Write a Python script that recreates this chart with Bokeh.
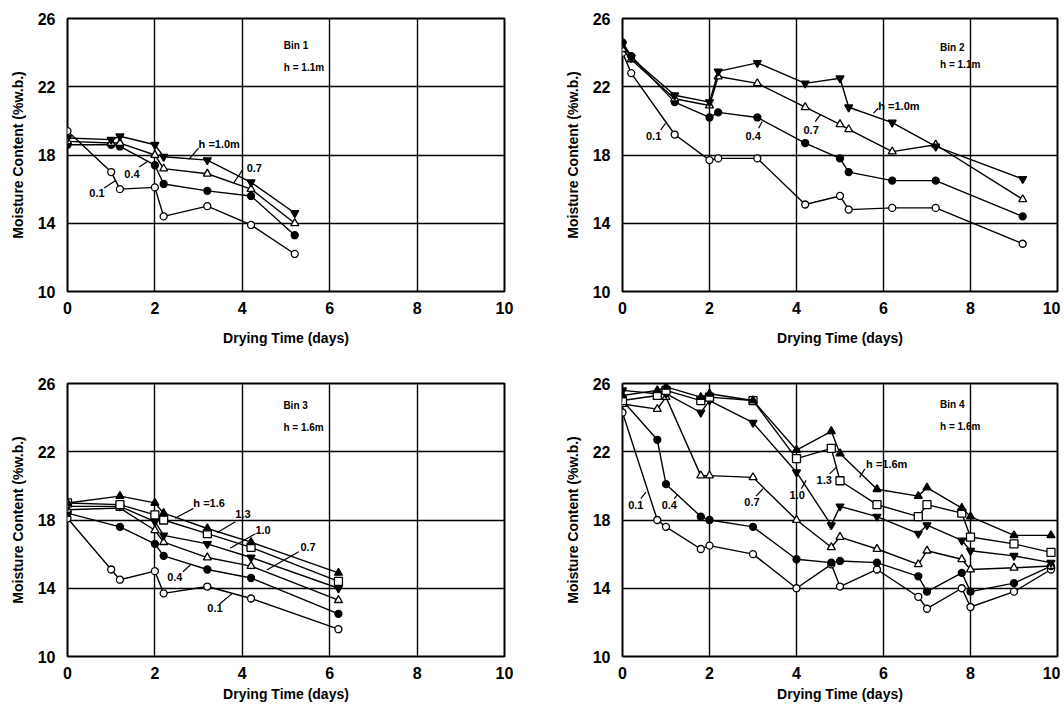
from bokeh.plotting import figure
from bokeh.layouts import row, column
from bokeh.models import Range1d
from bokeh.embed import file_html
from bokeh.resources import INLINE
from bokeh.core.properties import value

FONT = "Liberation Sans"

# ---------------- data ----------------
x_ticks = [0, 2, 4, 6, 8, 10]
y_ticks = [10, 14, 18, 22, 26]

# Bin 1 (h = 1.1 m)
bin1_days = [0, 1.0, 1.2, 2.0, 2.2, 3.2, 4.2, 5.2]
bin1_h01 = [19.4, 17.0, 16.0, 16.1, 14.4, 15.0, 13.9, 12.2]
bin1_h04 = [18.6, 18.6, 18.5, 17.4, 16.3, 15.9, 15.6, 13.3]
bin1_h07 = [18.8, 18.7, 18.7, 18.0, 17.2, 16.9, 16.0, 14.0]
bin1_h10 = [19.0, 18.9, 19.1, 18.6, 17.9, 17.7, 16.4, 14.6]

# Bin 2 (h = 1.1 m)
bin2_days = [0, 0.2, 1.2, 2.0, 2.2, 3.1, 4.2, 5.0, 5.2, 6.2, 7.2, 9.2]
bin2_h01 = [24.0, 22.8, 19.2, 17.7, 17.8, 17.8, 15.1, 15.6, 14.8, 14.9, 14.9, 12.8]
bin2_h04 = [24.6, 23.8, 21.1, 20.2, 20.5, 20.2, 18.7, 17.8, 17.0, 16.5, 16.5, 14.4]
bin2_h07 = [24.2, 23.6, 21.3, 20.9, 22.6, 22.2, 20.8, 19.8, 19.5, 18.2, 18.6, 15.4]
bin2_h10 = [24.5, 23.7, 21.5, 21.1, 22.9, 23.4, 22.2, 22.5, 20.8, 19.9, 18.5, 16.6]

# Bin 3 (h = 1.6 m)
bin3_days_h01 = [0, 1.0, 1.2, 2.0, 2.2, 3.2, 4.2, 6.2]
bin3_days = [0, 1.2, 2.0, 2.2, 3.2, 4.2, 6.2]
bin3_h01 = [18.1, 15.1, 14.5, 15.0, 13.7, 14.1, 13.4, 11.6]
bin3_h04 = [18.4, 17.6, 16.6, 15.9, 15.1, 14.6, 12.5]
bin3_h07 = [18.6, 18.7, 17.4, 16.7, 15.8, 15.3, 13.3]
bin3_h10 = [18.8, 18.8, 17.9, 17.1, 16.6, 15.8, 14.0]
bin3_h13 = [19.0, 18.9, 18.3, 18.0, 17.2, 16.4, 14.4]
bin3_h16 = [19.0, 19.4, 19.0, 18.4, 17.5, 16.7, 14.9]

# Bin 4 (h = 1.6 m)
bin4_days = [0, 0.8, 1.0, 1.8, 2.0, 3.0, 4.0, 4.8, 5.0, 5.85, 6.8, 7.0, 7.8, 8.0, 9.0, 9.85]
bin4_h01 = [24.3, 18.0, 17.6, 16.3, 16.5, 16.0, 14.0, 15.4, 14.1, 15.1, 13.5, 12.8, 14.0, 12.9, 13.8, 15.1]
bin4_h04 = [25.0, 22.7, 20.1, 18.2, 18.0, 17.6, 15.7, 15.5, 15.6, 15.5, 14.7, 13.8, 14.9, 13.8, 14.3, 15.3]
bin4_h07 = [24.8, 24.5, 25.2, 20.6, 20.6, 20.5, 18.0, 16.4, 17.0, 16.3, 15.4, 16.2, 15.7, 15.1, 15.2, 15.3]
bin4_h10 = [25.6, 25.4, 25.4, 24.3, 25.0, 23.7, 20.8, 17.7, 18.8, 18.2, 17.2, 17.7, 16.8, 16.2, 15.9, 15.5]
bin4_h13 = [25.0, 25.3, 25.6, 25.0, 25.2, 25.0, 21.6, 22.2, 20.3, 18.9, 18.2, 18.9, 18.4, 17.0, 16.6, 16.1]
bin4_h16 = [25.3, 25.6, 25.8, 25.2, 25.4, 25.0, 22.1, 23.2, 21.9, 19.8, 19.4, 19.9, 18.7, 18.2, 17.1, 17.1]

x_title = "Drying Time (days)"
y_title = "Moisture Content (%w.b.)"

# marker style per depth: (marker, filled)
STYLE = {
    "0.1": ("circle", False),
    "0.4": ("circle", True),
    "0.7": ("triangle", False),
    "1.0": ("inverted_triangle", True),
    "1.3": ("square", False),
    "1.6": ("triangle", True),
}


def make_fig(width, height, bl, br, bt, bb, xstand):
    p = figure(width=width, height=height,
               x_range=Range1d(0, 10), y_range=Range1d(10, 26),
               output_backend="svg", toolbar_location=None,
               min_border_left=bl, min_border_right=br,
               min_border_top=bt, min_border_bottom=bb,
               background_fill_color="white", border_fill_color="white")
    p.outline_line_color = "black"
    p.outline_line_width = 2
    p.xaxis.ticker = x_ticks
    p.yaxis.ticker = y_ticks
    for ax in (p.xaxis, p.yaxis):
        ax.axis_line_color = None
        ax.major_tick_line_color = None
        ax.minor_tick_line_color = None
        ax.major_label_text_font = FONT
        ax.major_label_text_font_size = "16px"
        ax.major_label_text_font_style = "bold"
        ax.major_label_text_color = "black"
        ax.axis_label_text_font = FONT
        ax.axis_label_text_font_size = "14px"
        ax.axis_label_text_font_style = "bold"
        ax.axis_label_text_color = "black"
    p.xaxis.axis_label = x_title
    p.yaxis.axis_label = y_title
    p.xaxis.major_label_standoff = 4
    p.yaxis.major_label_standoff = 6
    p.xaxis.axis_label_standoff = xstand
    p.yaxis.axis_label_standoff = 9
    for g in (p.xgrid, p.ygrid):
        g.grid_line_color = "black"
        g.grid_line_width = 1.4
        g.grid_line_alpha = 1.0
    return p


def add_series(p, days, vals, key):
    marker, filled = STYLE[key]
    p.line(days, vals, line_color="black", line_width=1.4)
    p.scatter(days, vals, marker=marker, size=7 if marker == "circle" else 8,
              fill_color="black" if filled else "white",
              line_color="black", line_width=1.3)


def add_labels(p, labels, bin_txt, bin_pos):
    # labels: list of (text, tx, ty, x0, y0, x1, y1)
    p.text(x=[l[1] for l in labels], y=[l[2] for l in labels], text=[l[0] for l in labels],
           text_font=value(FONT), text_font_size="11px", text_font_style="bold",
           text_color="black", text_baseline="middle", text_align="left")
    p.segment(x0=[l[3] for l in labels], y0=[l[4] for l in labels],
              x1=[l[5] for l in labels], y1=[l[6] for l in labels],
              line_color="black", line_width=1.2)
    bx, by1, by2 = bin_pos
    p.text(x=[bx, bx], y=[by1, by2], text=bin_txt,
           text_font=value(FONT), text_font_size="10px", text_font_style="bold",
           text_color="black", text_baseline="middle", text_align="left")


# ---------- Bin 1 ----------
p1 = make_fig(532, 353, 67, 28, 18, 62, 13)
add_series(p1, bin1_days, bin1_h01, "0.1")
add_series(p1, bin1_days, bin1_h04, "0.4")
add_series(p1, bin1_days, bin1_h07, "0.7")
add_series(p1, bin1_days, bin1_h10, "1.0")
add_labels(p1, [
    ("h =1.0m", 3.0, 18.65, 3.0, 18.4, 2.78, 17.75),
    ("0.7", 4.1, 17.25, 4.0, 17.1, 3.8, 16.35),
    ("0.4", 1.3, 16.9, 1.64, 17.3, 1.85, 17.65),
    ("0.1", 0.5, 15.8, 0.84, 16.06, 1.1, 16.5),
], ["Bin 1", "h = 1.1m"], (4.95, 24.4, 23.1))

# ---------- Bin 2 ----------
p2 = make_fig(528, 353, 90, 3, 18, 62, 13)
add_series(p2, bin2_days, bin2_h01, "0.1")
add_series(p2, bin2_days, bin2_h04, "0.4")
add_series(p2, bin2_days, bin2_h07, "0.7")
add_series(p2, bin2_days, bin2_h10, "1.0")
add_labels(p2, [
    ("0.1", 0.54, 19.14, 0.88, 19.47, 0.99, 19.86),
    ("0.4", 2.83, 19.14, 3.13, 19.57, 3.21, 19.96),
    ("0.7", 4.16, 19.47, 4.43, 19.96, 4.55, 20.36),
    ("h =1.0m", 5.88, 20.9, 5.88, 20.74, 5.77, 20.45),
], ["Bin 2", "h = 1.1m"], (7.3, 24.3, 23.3))

# ---------- Bin 3 ----------
p3 = make_fig(532, 352, 67, 28, 30, 49, 4)
add_series(p3, bin3_days_h01, bin3_h01, "0.1")
add_series(p3, bin3_days, bin3_h04, "0.4")
add_series(p3, bin3_days, bin3_h07, "0.7")
add_series(p3, bin3_days, bin3_h10, "1.0")
add_series(p3, bin3_days, bin3_h13, "1.3")
add_series(p3, bin3_days, bin3_h16, "1.6")
add_labels(p3, [
    ("h =1.6", 2.88, 18.97, 2.88, 18.68, 2.46, 18.1),
    ("1.3", 3.84, 18.35, 3.84, 17.9, 3.42, 17.25),
    ("1.0", 4.3, 17.4, 4.3, 17.2, 3.72, 16.34),
    ("0.7", 5.33, 16.4, 5.29, 16.14, 4.56, 15.07),
    ("0.4", 2.28, 14.64, 2.64, 14.97, 2.81, 15.36),
    ("0.1", 3.2, 12.84, 3.48, 13.08, 3.76, 13.67),
], ["Bin 3", "h = 1.6m"], (4.94, 24.7, 23.4))

# ---------- Bin 4 ----------
p4 = make_fig(528, 352, 90, 3, 30, 49, 4)
add_series(p4, bin4_days, bin4_h01, "0.1")
add_series(p4, bin4_days, bin4_h04, "0.4")
add_series(p4, bin4_days, bin4_h07, "0.7")
add_series(p4, bin4_days, bin4_h10, "1.0")
add_series(p4, bin4_days, bin4_h13, "1.3")
add_series(p4, bin4_days, bin4_h16, "1.6")
add_labels(p4, [
    ("0.1", 0.13, 18.85, 0.42, 19.25, 0.54, 19.64),
    ("0.4", 0.9, 18.85, 1.19, 19.25, 1.27, 19.5),
    ("0.7", 2.8, 19.05, 3.07, 19.4, 3.23, 19.83),
    ("1.0", 3.84, 19.44, 4.11, 19.83, 4.22, 20.32),
    ("1.3", 4.46, 20.32, 4.76, 20.7, 4.92, 21.1),
    ("h =1.6m", 5.6, 21.3, 5.57, 21.0, 5.45, 20.5),
], ["Bin 4", "h = 1.6m"], (7.3, 24.77, 23.48))

layout = column(row(p1, p2), row(p3, p4))
open("out.html", "w").write(file_html(layout, INLINE))
